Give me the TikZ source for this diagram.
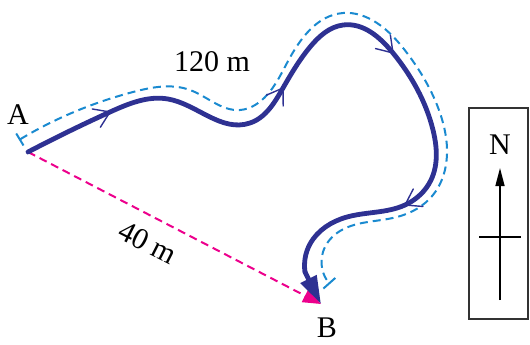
\documentclass[tikz,border=0pt]{standalone}
\usepackage{fontspec}
\setmainfont{Liberation Serif}
\usetikzlibrary{arrows.meta,hobby}
\definecolor{navy}{HTML}{2E3192}
\definecolor{skyb}{HTML}{1A8AD0}
\definecolor{mag}{HTML}{EC008C}
\definecolor{boxgray}{HTML}{333333}
\begin{document}
\begin{tikzpicture}[x=0.5pt,y=0.5pt,
  font=\fontsize{15}{18}\selectfont,
  walk/.style={draw=navy, line width=2.4pt, line cap=round, line join=round},
  route/.style={draw=skyb, line width=1pt, dash pattern=on 4pt off 2.5pt},
  magline/.style={draw=mag, line width=1pt, dash pattern=on 4pt off 2.5pt},
  chev/.pic={\draw[navy, line width=0.7pt, line cap=round] (-15,10) -- (0,0) -- (-15,-10);},
  lbl/.style={inner sep=0pt}]
\useasboundingbox (0,0) rectangle (530,344);

\coordinate (A) at (28,192);
\coordinate (B) at (321,40);

% labels
\node[lbl] (lA) at (18,229) {A};
\node[lbl] (lB) at (327,16) {B};
\node[lbl] (l120) at (212,282) {120 m};
\node[lbl, rotate=-27] (l40) at (148,101) {40 m};

% displacement
\draw[magline, -{Triangle[length=9pt,width=7pt]}] (A) -- (B);

% distance (dashed route)
\draw[route, use Hobby shortcut, {Bar[width=7pt]}-{Bar[width=8pt]}]
 (19,204) .. (67,229) .. (133,252) .. (190,254) .. (240,234) .. (267,249)
 .. (287,281) .. (343,331) .. (377,321) .. (407,291) .. (440,231)
 .. (447,190) .. (433,149) .. (397,127) .. (337,111) .. (323,92) .. (330,60);

% path walked
\draw[walk, use Hobby shortcut]
 (A) .. (110,232) .. (168,245) .. (250,221) .. (283,256) .. (310,297)
 .. (343,319) .. (393,291) .. (433,214) .. (431,164) .. (405,139)
 .. (347,127) .. (310,100) .. (305,72);
\coordinate (E) at (305,72);
\draw[walk, -{Triangle[length=14pt,width=8.5pt]}] (E) -- (B);

\pic[rotate=24] at (110,232) {chev};
\pic[rotate=57] at (283,256) {chev};
\pic[rotate=-48] at (393,291) {chev};
\pic[rotate=209] at (405,139) {chev};

% north box
\draw[boxgray, line width=1pt] (469,25) rectangle (528,236);
\node[lbl] (N) at (500,199) {N};
\coordinate (s) at (500,44);
\coordinate (n) at (500,176);
\coordinate (cw) at (479,107);
\coordinate (ce) at (521,107);
\draw[line width=0.75pt, -{Triangle[length=9pt,width=4.5pt]}] (s) -- (n);
\draw[line width=0.75pt] (cw) -- (ce);
\end{tikzpicture}
\end{document}
